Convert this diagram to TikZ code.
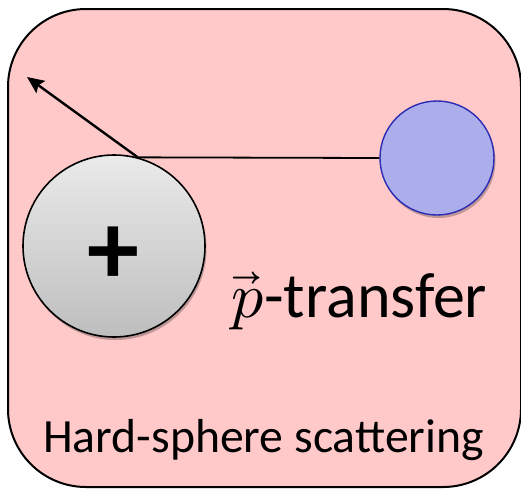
\documentclass[tikz,border=0pt]{standalone}
\usepackage{amsmath}
\usepackage{fontspec}
\usepackage{unicode-math}
\setmainfont{Carlito}
\setmathfont{Latin Modern Math}
\usepackage{tikz}
\usetikzlibrary{arrows.meta,shadows}
\usepackage{xcolor}
\definecolor{hsPink}{HTML}{FFC9C9}
\definecolor{hsBlue}{HTML}{ABAEEB}
\definecolor{hsBlueEdge}{HTML}{2B2BB5}
\definecolor{hsGrayTop}{HTML}{EAEAEA}
\definecolor{hsGrayBot}{HTML}{BEBEBE}

\begin{document}
\begin{tikzpicture}[
    x=1pt, y=-1pt,
    frame/.style={draw=black, line width=2pt, fill=hsPink, rounded corners=78pt},
    ion/.style={circle, draw=black, line width=1.6pt, minimum size=182pt, inner sep=0pt,
        top color=hsGrayTop, bottom color=hsGrayBot,
        drop shadow={shadow xshift=1.5pt, shadow yshift=-3pt, opacity=0.25, fill=black}},
    charge/.style={inner sep=0pt, font=\fontsize{104}{104}\selectfont\bfseries},
    particle/.style={circle, draw=hsBlueEdge, line width=1.4pt, minimum size=114pt, fill=hsBlue,
        drop shadow={shadow xshift=1.5pt, shadow yshift=-3pt, opacity=0.25, fill=black}},
    link/.style={draw=black, line width=1.8pt},
    recoil/.style={draw=black, line width=2.4pt, -{Stealth[length=17pt, width=15pt, inset=3pt]}}
]
    \useasboundingbox (0,0) rectangle (521,488);

    % Background panel
    \path[frame] (8,9) rectangle (521,487);

    % Spheres
    \node[ion] (ion) at (114,246) {};
    \node[charge, xshift=-1pt, yshift=-10pt] (charge) at (ion.center) {+};
    \node[particle] (particle) at (437,158) {};

    % Collision
    \coordinate (hit) at (ion.75);
    \coordinate (out) at (27,77);
    \draw[link] (hit) -- (particle.west);
    \draw[recoil] (hit) -- (out);

    % Labels
    \node[anchor=base west, inner sep=0pt, font=\fontsize{64}{76}\selectfont] (transfer) at (231,317) {$\vec{p}$-transfer};
    \node[anchor=base west, inner sep=0pt, font=\fontsize{47.7}{57}\selectfont] (title) at (43,452) {Hard-sphere scattering};

\end{tikzpicture}
\end{document}
